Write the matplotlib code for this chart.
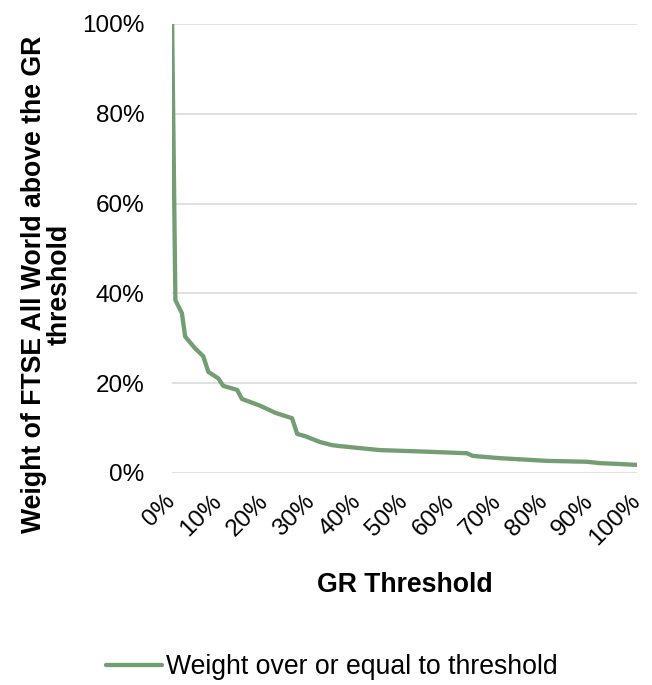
import matplotlib.pyplot as plt
from matplotlib.ticker import PercentFormatter

plt.rcParams['font.family'] = ['Liberation Sans', 'DejaVu Sans']

# GR threshold (%) and weight of FTSE All World at or above it (%)
threshold = [0, 0.7, 2.1, 2.8, 4.9, 6.7, 7.8, 9.9, 11.0, 14.0, 15.0, 18.9, 22.2,
             25.8, 26.9, 28.6, 31.8, 34.4, 36.0, 39.8, 44.7, 53.3, 63.4, 64.7,
             70.5, 80.6, 89.2, 92.0, 96.3, 100]
weight = [100, 38.5, 35.6, 30.4, 27.8, 26.0, 22.5, 21.1, 19.4, 18.5, 16.5, 15.0, 13.4,
          12.2, 8.7, 8.2, 6.9, 6.2, 6.0, 5.6, 5.1, 4.8, 4.4, 3.8,
          3.3, 2.7, 2.5, 2.2, 2.0, 1.8]

green = '#739D73'
fs_tick = 17.5
fs_lab = 19.2

fig = plt.figure(figsize=(6.52, 6.85), dpi=100)
ax = fig.add_axes([0.264, 0.3095, 0.713, 0.6555])

ax.plot(threshold, weight, color=green, lw=3.1, solid_capstyle='round',
        solid_joinstyle='round', label='Weight over or equal to threshold')

ax.set_xlim(0, 100)
ax.set_ylim(0, 100)
ax.set_xticks(range(0, 101, 10))
ax.set_yticks(range(0, 101, 20))
ax.xaxis.set_major_formatter(PercentFormatter(decimals=0))
ax.yaxis.set_major_formatter(PercentFormatter(decimals=0))
ax.grid(axis='y', color='#d9d9d9', lw=1.1)
ax.set_axisbelow(True)
for s in ax.spines.values():
    s.set_visible(False)

ax.tick_params(axis='y', length=0, pad=20, labelsize=fs_tick)
ax.tick_params(axis='x', length=0, pad=18, labelsize=fs_tick)
for lab in ax.get_xticklabels():
    lab.set_rotation(45)
    lab.set_ha('right')
    lab.set_va('center')
    lab.set_rotation_mode('anchor')

ax.set_ylabel('Weight of FTSE All World above the GR\nthreshold',
              fontsize=fs_lab, fontweight='bold', linespacing=1.0)
ax.yaxis.set_label_coords(-0.213, 0.419)
ax.set_xlabel('GR Threshold', fontsize=fs_lab, fontweight='bold')
ax.xaxis.set_label_coords(0.5, -0.22)

fig.legend(loc='center', bbox_to_anchor=(332 / 652, 1 - 667 / 685),
           frameon=False, fontsize=fs_lab, handlelength=2.1, handletextpad=0.17)

plt.savefig('out.png', dpi=100)
